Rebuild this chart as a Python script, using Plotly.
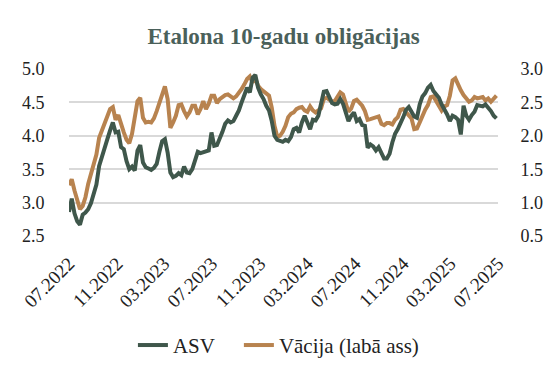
import pandas as pd
import plotly.graph_objects as go

# Weekly observations, July 2022 – June 2025
dates = pd.date_range("2022-07-01", periods=157, freq="7D")

asv = [
    2.86, 3.06, 2.84, 2.72, 2.67, 2.82, 2.85, 2.90, 2.99, 3.14,
    3.27, 3.55, 3.70, 3.80, 3.95, 4.08, 4.20, 4.05, 4.06, 3.83,
    3.80, 3.62, 3.50, 3.54, 3.48, 3.78, 3.86, 3.60, 3.53, 3.51,
    3.49, 3.52, 3.58, 3.76, 3.92, 3.95, 3.75, 3.45, 3.38, 3.40,
    3.44, 3.41, 3.54, 3.45, 3.44, 3.50, 3.66, 3.76, 3.74, 3.75,
    3.76, 3.78, 4.05, 3.85, 3.86, 3.95, 4.06, 4.18, 4.23, 4.20,
    4.22, 4.30, 4.38, 4.50, 4.62, 4.72, 4.65, 4.87, 4.91, 4.72,
    4.62, 4.55, 4.45, 4.38, 4.22, 4.00, 3.94, 3.92, 3.91, 3.94,
    3.92, 3.98, 4.10, 4.12, 4.05, 4.20, 4.30, 4.20, 4.10, 4.24,
    4.23, 4.30, 4.50, 4.66, 4.67, 4.57, 4.49, 4.47, 4.48, 4.55,
    4.48, 4.35, 4.22, 4.30, 4.35, 4.22, 4.25, 4.16, 4.15, 3.82,
    3.87, 3.84, 3.78, 3.83, 3.74, 3.66, 3.66, 3.73, 3.90, 4.03,
    4.10, 4.18, 4.28, 4.39, 4.43, 4.36, 4.29, 4.27, 4.47, 4.59,
    4.64, 4.72, 4.76, 4.67, 4.61, 4.57, 4.47, 4.40, 4.32, 4.22,
    4.30, 4.28, 4.24, 4.02, 4.45, 4.30, 4.24, 4.31, 4.36, 4.46,
    4.45, 4.44, 4.47, 4.43, 4.37, 4.30, 4.26,
]

vacija = [
    1.26, 1.35, 1.18, 1.02, 0.90, 0.95, 1.08, 1.28, 1.44, 1.56,
    1.72, 1.97, 2.08, 2.19, 2.30, 2.40, 2.43, 2.24, 2.31, 2.16,
    2.05, 1.94, 1.89, 2.03, 2.26, 2.52, 2.57, 2.27, 2.20, 2.21,
    2.20, 2.26, 2.37, 2.50, 2.65, 2.74, 2.55, 2.12, 2.20, 2.30,
    2.46, 2.47, 2.37, 2.29, 2.35, 2.45, 2.45, 2.32, 2.40, 2.52,
    2.40, 2.48, 2.60, 2.60, 2.49, 2.55, 2.58, 2.61, 2.62, 2.58,
    2.56, 2.59, 2.64, 2.70, 2.77, 2.85, 2.89, 2.80, 2.86, 2.75,
    2.70, 2.66, 2.64, 2.60, 2.42, 2.15, 1.99, 2.00, 2.06, 2.15,
    2.28, 2.33, 2.35, 2.40, 2.42, 2.43, 2.38, 2.36, 2.44, 2.38,
    2.35, 2.39, 2.41, 2.55, 2.57, 2.54, 2.51, 2.52, 2.59, 2.65,
    2.62, 2.50, 2.36, 2.41, 2.52, 2.54, 2.49, 2.45, 2.37, 2.24,
    2.25, 2.26, 2.28, 2.29, 2.18, 2.16, 2.19, 2.19, 2.17, 2.24,
    2.28, 2.39, 2.40, 2.36, 2.32, 2.26, 2.10, 2.11, 2.20, 2.31,
    2.39, 2.46, 2.58, 2.59, 2.52, 2.44, 2.38, 2.44, 2.46, 2.60,
    2.83, 2.86, 2.76, 2.68, 2.61, 2.55, 2.51, 2.53, 2.58, 2.56,
    2.57, 2.58, 2.53, 2.56, 2.51, 2.56, 2.60,
]

series_names = ["ASV", "Vācija (labā ass)"]
left_ticks = [2.5, 3.0, 3.5, 4.0, 4.5, 5.0]
right_ticks = [0.5, 1.0, 1.5, 2.0, 2.5, 3.0]

GREEN = "#3F574B"
BROWN = "#B8834F"
FONT = "Liberation Serif"
TEXT = "#222222"

fig = go.Figure()
fig.add_trace(go.Scatter(
    x=dates, y=asv, name=series_names[0], mode="lines",
    line=dict(color=GREEN, width=4), yaxis="y2", legend="legend",
))
fig.add_trace(go.Scatter(
    x=dates, y=vacija, name=series_names[1], mode="lines",
    line=dict(color=BROWN, width=4), yaxis="y", legend="legend2",
))

legend_common = dict(
    orientation="h", xanchor="left", y=-0.655, yanchor="middle",
    font=dict(family=FONT, size=21, color=TEXT),
    bgcolor="rgba(0,0,0,0)",
)

fig.update_layout(
    width=556, height=376,
    paper_bgcolor="white", plot_bgcolor="white",
    margin=dict(l=69, r=58, t=69, b=140, autoexpand=False),
    font=dict(family=FONT, size=18, color=TEXT),
    title=dict(
        text="<b>Etalona 10-gadu obligācijas</b>",
        x=0.5, xanchor="center", y=0.905, yanchor="middle",
        xref="paper",
        font=dict(family=FONT, size=23, color="#4A605A"),
    ),
    showlegend=True,
    legend=dict(x=0.149, **legend_common),
    legend2=dict(x=0.396, **legend_common),
    xaxis=dict(
        type="date",
        range=["2022-07-01", "2025-07-01"],
        tick0="2022-07-01", dtick="M4", tickformat="%m.%Y",
        tickangle=-45,
        showgrid=False, zeroline=False, showline=False,
        ticks="outside", ticklen=8, tickcolor="rgba(0,0,0,0)",
        tickfont=dict(family=FONT, size=19, color=TEXT),
    ),
    yaxis=dict(
        side="right",
        range=[0.5, 3.0], tickvals=right_ticks,
        tickformat=".1f",
        showgrid=True, gridcolor="#D9D9D9", gridwidth=1.5,
        zeroline=False, showline=False,
        ticks="outside", ticklen=18, tickcolor="rgba(0,0,0,0)",
        tickfont=dict(family=FONT, size=18, color=TEXT),
    ),
    yaxis2=dict(
        side="left", overlaying="y",
        range=[2.5, 5.0], tickvals=left_ticks,
        tickformat=".1f",
        showgrid=False, zeroline=False, showline=False,
        ticks="outside", ticklen=20, tickcolor="rgba(0,0,0,0)",
        tickfont=dict(family=FONT, size=18, color=TEXT),
    ),
)

fig.write_html(
    "out.html",
    config={"displayModeBar": False},
    post_script="document.body.style.margin='0';document.body.style.padding='0';",
)
